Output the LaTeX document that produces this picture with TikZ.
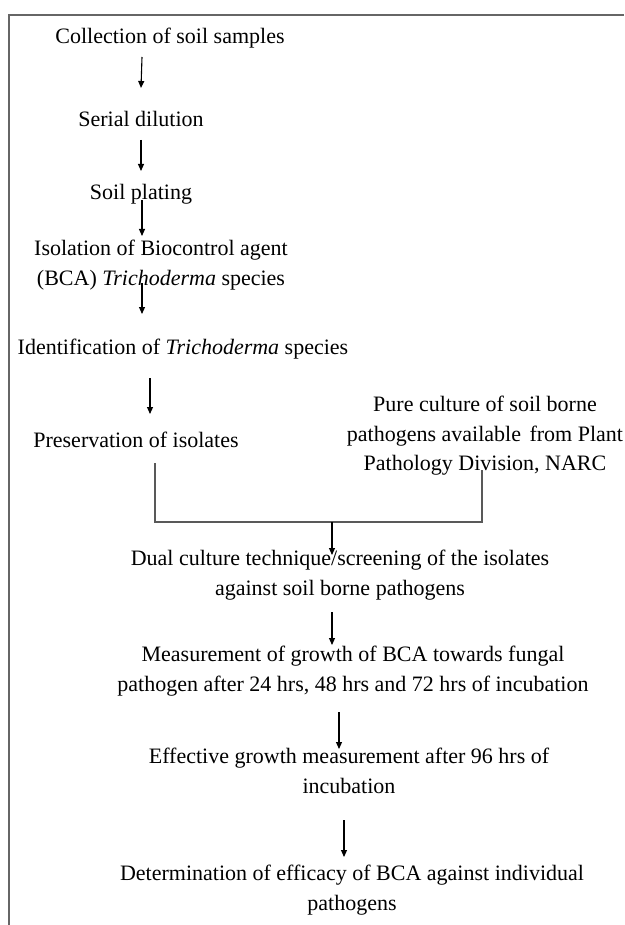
\documentclass[tikz,border=0pt]{standalone}
\usepackage{fontspec}
\setmainfont{Liberation Serif}
\usetikzlibrary{arrows.meta}
\begin{document}
\begin{tikzpicture}[x=1pt,y=-1pt,
  lbl/.style={inner sep=0pt,align=center,font=\fontsize{22pt}{29.5pt}\selectfont,text=black},
  arr/.style={line width=1.1pt,draw=black,-{Triangle[length=7pt,width=6pt]}},
  brk/.style={line width=1.5pt,draw=black!65},
  frm/.style={line width=1.6pt,draw=black!60}]
\useasboundingbox (0,0) rectangle (624,925);
% frame
\coordinate (ftr) at (624,15);
\coordinate (ftl) at (9,15);
\coordinate (fbl) at (9,925);
\draw[frm] (ftr) -- (ftl) -- (fbl);
% nodes
\node[lbl] (n1) at (170,38) {Collection of soil samples};
\node[lbl] (n2) at (141,119) {Serial dilution};
\node[lbl] (n3) at (141,194) {Soil plating};
\node[lbl] (n4) at (161,265) {Isolation of Biocontrol agent\\(BCA) \textit{Trichoderma} species};
\node[lbl] (n5) at (183,349) {Identification of \textit{Trichoderma} species};
\node[lbl] (n6) at (136,440) {Preservation of isolates};
\node[lbl] (n7) at (485,436) {Pure culture of soil borne\\pathogens available\hspace{3pt} from Plant\\Pathology Division, NARC};
\node[lbl] (n8) at (340,575) {Dual culture technique/screening of the isolates\\against soil borne pathogens};
\node[lbl] (n9) at (353,671) {Measurement of growth of BCA towards fungal\\pathogen after 24 hrs, 48 hrs and 72 hrs of incubation};
\node[lbl] (n10) at (349,771) {Effective growth measurement after 96 hrs of\\incubation};
\node[lbl] (n11) at (352,890) {Determination of efficacy of BCA against individual\\pathogens};
% arrows
\draw[arr] ([shift={(-28,19)}]n1.center) -- ([shift={(0,-31)}]n2.center);
\draw[arr] ([shift={(0,21)}]n2.center) -- ([shift={(0,-23)}]n3.center);
\draw[arr] ([shift={(1,6)}]n3.center) -- ([shift={(-19,-29)}]n4.center);
\draw[arr] ([shift={(-19,18)}]n4.center) -- ([shift={(-41,-35)}]n5.center);
\draw[arr] ([shift={(-33,29)}]n5.center) -- ([shift={(14,-26)}]n6.center);
% bracket
\coordinate (jn) at (332,522);
\draw[brk] ([shift={(19,23)}]n6.center) |- (jn) -| ([shift={(-3,34)}]n7.center);
\draw[arr] (jn) -- ([shift={(-8,-20)}]n8.center);
\draw[arr] ([shift={(-8,37)}]n8.center) -- ([shift={(-21,-26)}]n9.center);
\draw[arr] ([shift={(-14,41)}]n9.center) -- ([shift={(-10,-22)}]n10.center);
\draw[arr] ([shift={(-5,49)}]n10.center) -- ([shift={(-8,-33)}]n11.center);
\end{tikzpicture}
\end{document}
